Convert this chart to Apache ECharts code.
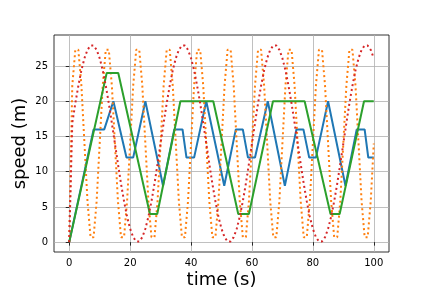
<!DOCTYPE html>
<html>
<head>
<meta charset="utf-8">
<script src="https://cdn.jsdelivr.net/npm/echarts@6/dist/echarts.min.js"></script>
<style>
html,body{margin:0;padding:0;background:#fff;}
#c{width:432px;height:288px;}
</style>
</head>
<body>
<div id="c"></div>
<script>
// sample times (s)
const timeSamples = Array.from({length: 101}, (_, i) => i);

// blue series breakpoints
const blueT = [0, 8, 11.5, 14.5, 18.8, 21, 25, 30.8, 34.5, 37.2, 38.5, 41, 45, 50.9, 54.7, 57, 58.7, 61, 65.2, 70.8, 74.6, 76.9, 78.8, 81, 85, 90.7, 94.4, 97, 98.2, 100];
const blueV = [0, 16, 16, 20, 12, 12, 20, 8, 16, 16, 12, 12, 20, 8, 16, 16, 12, 12, 20, 8, 16, 16, 12, 12, 20, 8, 16, 16, 12, 12];

// green series breakpoints
const greenT = [0, 12.3, 16.1, 26.5, 28.9, 36.5, 47.3, 55.5, 59, 66.9, 77.3, 85.8, 88.8, 96.8, 100];
const greenV = [0, 24, 24, 4, 4, 20, 20, 4, 4, 20, 20, 4, 4, 20, 20];

// orange series values at each sample time
const orangeV = [0,
  22.2, 27.3, 27.3, 22.2, 14.0, 5.8, 0.7, 0.7, 5.8, 14.0,
  22.2, 27.3, 27.3, 22.2, 14.0, 5.8, 0.7, 0.7, 5.8, 14.0,
  22.2, 27.3, 27.3, 22.2, 14.0, 5.8, 0.7, 0.7, 5.8, 14.0,
  22.2, 27.3, 27.3, 22.2, 14.0, 5.8, 0.7, 0.7, 5.8, 14.0,
  22.2, 27.3, 27.3, 22.2, 14.0, 5.8, 0.7, 0.7, 5.8, 14.0,
  22.2, 27.3, 27.3, 22.2, 14.0, 5.8, 0.7, 0.7, 5.8, 14.0,
  22.2, 27.3, 27.3, 22.2, 14.0, 5.8, 0.7, 0.7, 5.8, 14.0,
  22.2, 27.3, 27.3, 22.2, 14.0, 5.8, 0.7, 0.7, 5.8, 14.0,
  22.2, 27.3, 27.3, 22.2, 14.0, 5.8, 0.7, 0.7, 5.8, 14.0,
  22.2, 27.3, 27.3, 22.2, 14.0, 5.8, 0.7, 0.7, 5.8, 14.0];

// red series values at each sample time
const redV = [0,
  16.9, 19.7, 22.2, 24.4, 26.1, 27.3, 27.9, 27.9, 27.3, 26.1, 24.4, 22.2, 19.7, 16.9, 14.0,
  11.1, 8.3, 5.8, 3.6, 1.9, 0.7, 0.1, 0.1, 0.7, 1.9, 3.6, 5.8, 8.3, 11.1, 14.0,
  16.9, 19.7, 22.2, 24.4, 26.1, 27.3, 27.9, 27.9, 27.3, 26.1, 24.4, 22.2, 19.7, 16.9, 14.0,
  11.1, 8.3, 5.8, 3.6, 1.9, 0.7, 0.1, 0.1, 0.7, 1.9, 3.6, 5.8, 8.3, 11.1, 14.0,
  16.9, 19.7, 22.2, 24.4, 26.1, 27.3, 27.9, 27.9, 27.3, 26.1, 24.4, 22.2, 19.7, 16.9, 14.0,
  11.1, 8.3, 5.8, 3.6, 1.9, 0.7, 0.1, 0.1, 0.7, 1.9, 3.6, 5.8, 8.3, 11.1, 14.0,
  16.9, 19.7, 22.2, 24.4, 26.1, 27.3, 27.9, 27.9, 27.3, 26.1];

const xTicks = [0, 20, 40, 60, 80, 100];
const yTicks = [0, 5, 10, 15, 20, 25];

const zip = (a, b) => a.map((v, i) => [v, b[i]]);
const font = 'DejaVu Sans';

const chart = echarts.init(document.getElementById('c'), null, {renderer: 'canvas'});
chart.setOption({
  animation: false,
  backgroundColor: '#fff',
  grid: {left: 54, right: 43, top: 35, bottom: 36, outerBoundsMode: 'none', containLabel: false,
         show: true, borderColor: '#000', borderWidth: 0.8, backgroundColor: 'transparent'},
  xAxis: {
    type: 'value', min: -5, max: 105,
    name: 'time (s)', nameLocation: 'middle', nameGap: 19, nameMoveOverlap: false,
    nameTextStyle: {fontFamily: font, fontSize: 18, color: '#000'},
    axisLine: {show: false},
    axisTick: {show: true, customValues: xTicks, length: 3.5, lineStyle: {color: '#000', width: 0.8}},
    axisLabel: {customValues: xTicks, fontFamily: font, fontSize: 10, color: '#000', margin: 6},
    splitLine: {show: true, lineStyle: {color: '#b0b0b0', width: 0.8}}
  },
  yAxis: {
    type: 'value', min: -1.4, max: 29.4,
    name: 'speed (m)', nameLocation: 'middle', nameGap: 25, nameMoveOverlap: false,
    nameTextStyle: {fontFamily: font, fontSize: 18, color: '#000'},
    axisLine: {show: false},
    axisTick: {show: true, customValues: yTicks, length: 3.5, lineStyle: {color: '#000', width: 0.8}},
    axisLabel: {customValues: yTicks, fontFamily: font, fontSize: 10, color: '#000', margin: 6},
    splitLine: {show: true, lineStyle: {color: '#b0b0b0', width: 0.8}}
  },
  series: [
    {type: 'line', data: zip(blueT, blueV), showSymbol: false, lineStyle: {color: '#1f77b4', width: 2}},
    {type: 'line', data: zip(timeSamples, orangeV), showSymbol: false, lineStyle: {color: '#ff7f0e', width: 2, type: [2, 3], cap: 'butt'}},
    {type: 'line', data: zip(greenT, greenV), showSymbol: false, lineStyle: {color: '#2ca02c', width: 2}},
    {type: 'line', data: zip(timeSamples, redV), showSymbol: false, lineStyle: {color: '#d62728', width: 2, type: [2, 3], cap: 'butt'}}
  ]
});
</script>
</body>
</html>
